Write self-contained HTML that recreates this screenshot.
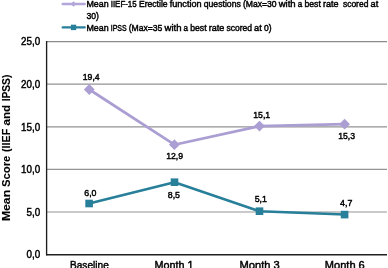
<!DOCTYPE html>
<html><head><meta charset="utf-8">
<style>
html,body{margin:0;padding:0;background:#fff;width:388px;height:268px;overflow:hidden}
svg{position:absolute;left:0;top:0;display:block;will-change:transform}
text{font-family:"Liberation Sans",sans-serif;fill:#000;stroke:#000;stroke-width:0.45px}
.ttl text{stroke-width:0.1px}
</style></head>
<body>
<svg width="388" height="268" viewBox="0 0 388 268">
  <!-- gridlines -->
  <g stroke="#939393" stroke-width="1.2">
    <line x1="47" y1="41.6" x2="387" y2="41.6" stroke="#8c8c8c"/>
    <line x1="47" y1="84.2" x2="387" y2="84.2"/>
    <line x1="47" y1="126.8" x2="387" y2="126.8"/>
    <line x1="47" y1="169.4" x2="387" y2="169.4"/>
    <line x1="47" y1="212" x2="387" y2="212"/>
  </g>
  <!-- axes -->
  <line x1="46.6" y1="41" x2="46.6" y2="255.4" stroke="#1e1e1e" stroke-width="1.35"/>
  <line x1="46" y1="254.7" x2="387" y2="254.7" stroke="#202020" stroke-width="1.35"/>

  <!-- purple series -->
  <polyline points="89.3,89.5 174.4,144.7 259.5,126.1 344.6,124.2" fill="none" stroke="#ab9ed3" stroke-width="2.7" stroke-linejoin="round"/>
  <g fill="#ab9ed3">
    <polygon points="89.3,84.1 94.7,89.5 89.3,94.9 83.9,89.5"/>
    <polygon points="174.4,139.3 179.8,144.7 174.4,150.1 169.0,144.7"/>
    <polygon points="259.5,120.7 264.9,126.1 259.5,131.5 254.1,126.1"/>
    <polygon points="344.6,118.8 350.0,124.2 344.6,129.6 339.2,124.2"/>
  </g>
  <!-- teal series -->
  <polyline points="89.1,203.5 174.5,182.2 259.5,211.2 344.6,214.6" fill="none" stroke="#277f99" stroke-width="2.5" stroke-linejoin="round"/>
  <g fill="#277f99">
    <rect x="85.3" y="199.7" width="7.6" height="7.6"/>
    <rect x="170.7" y="178.4" width="7.6" height="7.6"/>
    <rect x="255.7" y="207.4" width="7.6" height="7.6"/>
    <rect x="340.8" y="210.8" width="7.6" height="7.6"/>
  </g>

  <!-- legend -->
  <line x1="62.6" y1="4" x2="84.8" y2="4" stroke="#b3a6d9" stroke-width="2.3" stroke-linecap="round"/>
  <polygon points="73.5,1.2 76.3,4 73.5,6.8 70.7,4" fill="#b3a6d9"/>
  <line x1="62.6" y1="27.4" x2="84.8" y2="27.4" stroke="#277f99" stroke-width="2.1" stroke-linecap="round"/>
  <rect x="70.9" y="24.7" width="5.3" height="5.4" fill="#277f99"/>

  <g font-size="9">
    <text x="86.4" y="6.7" textLength="22.2" lengthAdjust="spacingAndGlyphs">Mean</text>
    <text x="110.7" y="6.7" textLength="26.0" lengthAdjust="spacingAndGlyphs">IIEF-15</text>
    <text x="138.9" y="6.7" textLength="28.7" lengthAdjust="spacingAndGlyphs">Erectile</text>
    <text x="169.7" y="6.7" textLength="31.9" lengthAdjust="spacingAndGlyphs">function</text>
    <text x="203.7" y="6.7" textLength="37.1" lengthAdjust="spacingAndGlyphs">questions</text>
    <text x="242.9" y="6.7" textLength="33.7" lengthAdjust="spacingAndGlyphs">(Max=30</text>
    <text x="278.7" y="6.7" textLength="17.0" lengthAdjust="spacingAndGlyphs">with</text>
    <text x="297.8" y="6.7" textLength="4.5" lengthAdjust="spacingAndGlyphs">a</text>
    <text x="304.4" y="6.7" textLength="16.4" lengthAdjust="spacingAndGlyphs">best</text>
    <text x="323.0" y="6.7" textLength="15.6" lengthAdjust="spacingAndGlyphs">rate</text>
    <text x="342.9" y="6.7" textLength="25.5" lengthAdjust="spacingAndGlyphs">scored</text>
    <text x="370.5" y="6.7" textLength="7.7" lengthAdjust="spacingAndGlyphs">at</text>
    <text x="86.4" y="19" textLength="12.4" lengthAdjust="spacingAndGlyphs">30)</text>
    <text x="86.4" y="30.6" textLength="22.2" lengthAdjust="spacingAndGlyphs">Mean</text>
    <text x="110.7" y="30.6" textLength="15.9" lengthAdjust="spacingAndGlyphs">IPSS</text>
    <text x="128.7" y="30.6" textLength="33.7" lengthAdjust="spacingAndGlyphs">(Max=35</text>
    <text x="164.5" y="30.6" textLength="17.0" lengthAdjust="spacingAndGlyphs">with</text>
    <text x="183.5" y="30.6" textLength="4.5" lengthAdjust="spacingAndGlyphs">a</text>
    <text x="190.2" y="30.6" textLength="16.4" lengthAdjust="spacingAndGlyphs">best</text>
    <text x="208.7" y="30.6" textLength="15.6" lengthAdjust="spacingAndGlyphs">rate</text>
    <text x="226.5" y="30.6" textLength="25.5" lengthAdjust="spacingAndGlyphs">scored</text>
    <text x="254.1" y="30.6" textLength="7.7" lengthAdjust="spacingAndGlyphs">at</text>
    <text x="263.9" y="30.6" textLength="7.6" lengthAdjust="spacingAndGlyphs">0)</text>
  </g>

  <!-- y axis labels -->
  <g font-size="10.5" text-anchor="end">
    <text x="40.2" y="45.4" textLength="19.1" lengthAdjust="spacingAndGlyphs">25,0</text>
    <text x="40.2" y="87.9" textLength="19.1" lengthAdjust="spacingAndGlyphs">20,0</text>
    <text x="40.2" y="130.5" textLength="19.1" lengthAdjust="spacingAndGlyphs">15,0</text>
    <text x="40.2" y="173.1" textLength="19.1" lengthAdjust="spacingAndGlyphs">10,0</text>
    <text x="40.2" y="215.7" textLength="13.7" lengthAdjust="spacingAndGlyphs">5,0</text>
    <text x="40.2" y="258.3" textLength="13.7" lengthAdjust="spacingAndGlyphs">0,0</text>
  </g>

  <!-- x axis labels -->
  <g font-size="11" text-anchor="middle">
    <text x="89.4" y="268.6" textLength="38.8" lengthAdjust="spacingAndGlyphs">Baseline</text>
    <text x="174.1" y="268.6" textLength="39.0" lengthAdjust="spacingAndGlyphs">Month 1</text>
    <text x="259.7" y="268.6" textLength="40.2" lengthAdjust="spacingAndGlyphs">Month 3</text>
    <text x="344.8" y="268.6" textLength="39.9" lengthAdjust="spacingAndGlyphs">Month 6</text>
  </g>

  <!-- data labels -->
  <g font-size="9.4" text-anchor="middle">
    <text x="91.2" y="79.8" textLength="16.9" lengthAdjust="spacingAndGlyphs">19,4</text>
    <text x="174.6" y="158.6" textLength="16.9" lengthAdjust="spacingAndGlyphs">12,9</text>
    <text x="261.7" y="117.9" textLength="16.9" lengthAdjust="spacingAndGlyphs">15,1</text>
    <text x="346.6" y="139.4" textLength="16.9" lengthAdjust="spacingAndGlyphs">15,3</text>
    <text x="90.4" y="195.6" textLength="12.3" lengthAdjust="spacingAndGlyphs">6,0</text>
    <text x="173.9" y="197.7" textLength="12.3" lengthAdjust="spacingAndGlyphs">8,5</text>
    <text x="260.8" y="201.7" textLength="12.3" lengthAdjust="spacingAndGlyphs">5,1</text>
    <text x="346.2" y="206" textLength="12.3" lengthAdjust="spacingAndGlyphs">4,7</text>
  </g>

  <!-- y axis title -->
  <g transform="translate(9.9,220.8) rotate(-90)" font-size="11.6" font-weight="bold" class="ttl">
    <text x="-0.3" y="0" textLength="31.2" lengthAdjust="spacingAndGlyphs">Mean</text>
    <text x="33.9" y="0" textLength="31.2" lengthAdjust="spacingAndGlyphs">Score</text>
    <text x="68.8" y="0" textLength="23.4" lengthAdjust="spacingAndGlyphs">(IIEF</text>
    <text x="95.3" y="0" textLength="20.6" lengthAdjust="spacingAndGlyphs">and</text>
    <text x="119.5" y="0" textLength="26.6" lengthAdjust="spacingAndGlyphs">IPSS)</text>
  </g>
</svg>
</body></html>
